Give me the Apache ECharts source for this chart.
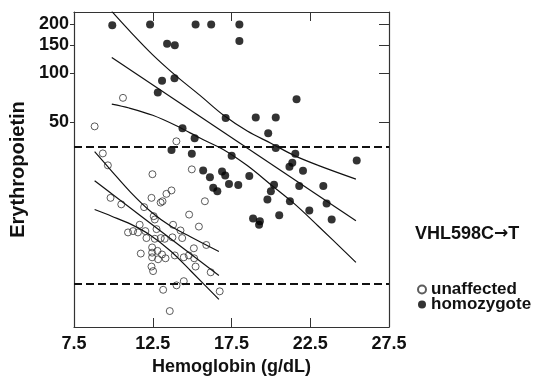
<!DOCTYPE html>
<html>
<head>
<meta charset="utf-8">
<script src="https://cdn.jsdelivr.net/npm/echarts@6/dist/echarts.min.js"></script>
<style>
html, body { margin: 0; padding: 0; background: #fff; }
#chart { width: 533px; height: 387px; }
</style>
</head>
<body>
<div id="chart"></div>
<script>
// [hemoglobin g/dL, erythropoietin]
const unaffected = [
  [8.81, 47], [10.61, 70.5], [9.33, 32], [9.65, 27], [14.0, 38], [12.48, 23.8], [14.98, 25.5],
  [13.69, 18.9], [13.37, 18.0], [12.42, 17], [13.12, 16.2], [9.82, 17], [10.5, 15.5], [11.95, 14.9],
  [12.56, 13.1], [12.63, 12.5], [13.79, 11.6], [11.67, 11.6], [10.93, 10.4], [11.25, 10.6],
  [11.56, 10.4], [12.03, 10.6], [12.1, 9.6], [12.63, 9.5], [13.01, 9.6], [13.26, 9.5], [13.75, 9.7],
  [11.74, 7.7], [12.46, 8.4], [12.46, 7.8], [12.46, 7.3], [12.8, 8.0], [13.09, 7.6], [13.31, 7.2],
  [12.84, 7.1], [12.42, 6.4], [12.52, 6.0], [13.9, 7.5], [13.16, 4.6], [14.01, 4.9], [13.58, 3.4],
  [12.74, 10.9], [14.81, 13.4], [15.81, 16.2], [15.43, 11.3], [14.26, 10.7], [14.37, 9.6],
  [15.11, 8.3], [15.9, 8.7], [14.79, 7.5], [14.47, 7.3], [15.22, 6.4], [16.18, 5.9], [14.47, 5.2],
  [16.75, 4.5], [15.13, 7.2], [13.0, 15.9]
];
const homozygote = [
  [9.93, 198], [12.33, 200], [13.41, 152], [13.9, 149], [13.09, 90], [13.88, 93], [12.82, 76],
  [13.69, 33.6], [14.98, 31.8], [14.39, 45.7], [15.16, 39.7], [15.22, 200], [16.21, 200], [18.0, 200],
  [18.0, 158], [17.13, 53], [19.04, 53.4], [20.31, 53.4], [19.83, 42.6], [20.31, 34.5], [17.51, 31.0],
  [21.63, 69], [21.55, 31.8], [25.45, 28.9], [21.36, 28.0], [21.18, 26.5], [22.04, 25], [15.7, 25.1],
  [16.13, 22.8], [16.9, 24.7], [17.1, 23.4], [18.63, 23.2], [17.34, 20.7], [17.93, 20.4], [16.34, 19.6],
  [16.6, 18.7], [20.2, 20.5], [20.0, 18.7], [19.78, 16.6], [18.87, 12.7], [19.3, 12.2], [19.25, 11.6],
  [20.53, 13.3], [21.8, 20.1], [23.33, 20.1], [21.21, 16.2], [23.54, 15.7], [22.44, 14.2], [23.86, 12.5]
];

// fitted lines and their bands
const homBandX = [9.9, 11, 12.5, 14, 15.5, 17, 18.5, 20, 21.5, 23, 25.4];
const homUpper = [241, 184, 130, 96, 73, 55, 44, 37, 31, 27, 22.2];
const homLower = [64.5, 61, 55, 47.4, 39.8, 33.7, 26.9, 20.5, 15.6, 11.4, 6.8];
const homFitX = [9.9, 25.4];
const homFit = [125, 12.3];

const unaBandX = [8.81, 9.89, 11.1, 12.37, 13.65, 14.92, 16.7];
const unaUpper = [32.8, 24.9, 18.4, 14.0, 11.35, 9.75, 7.93];
const unaLower = [14.4, 13.1, 11.7, 9.97, 7.96, 6.01, 4.01];
const unaFitX = [8.81, 16.7];
const unaFit = [21.7, 5.64];

const refLevels = [35, 5];
const xTicks = [7.5, 12.5, 17.5, 22.5, 27.5];
const yTicks = [50, 100, 150, 200];

const FONT = '"Liberation Sans", Arial, sans-serif';
const INK = '#111';

function zip(xs, ys) { return xs.map((x, i) => [x, ys[i]]); }
function curve(xs, ys) {
  return {
    type: 'line', data: zip(xs, ys), showSymbol: false, smooth: 0.35, silent: true,
    lineStyle: { color: INK, width: 1.2 }, xAxisIndex: 0, yAxisIndex: 0
  };
}

const chart = echarts.init(document.getElementById('chart'), null, { renderer: 'canvas' });
chart.setOption({
  animation: false,
  backgroundColor: '#fff',
  grid: { left: 74, top: 12, right: 144, bottom: 60 },
  title: {
    text: '{t|VHL598C}{a|\u2192}{t|T}', left: 410, top: 220,
    textStyle: {
      rich: {
        t: { fontFamily: FONT, fontWeight: 'bold', fontSize: 18, color: INK },
        a: { fontFamily: '"DejaVu Sans", sans-serif', fontWeight: 'bold', fontSize: 17, color: INK }
      }
    }
  },
  legend: {
    orient: 'vertical', left: 412, top: 276, itemGap: -2, itemWidth: 8, itemHeight: 8,
    data: ['unaffected', 'homozygote'],
    textStyle: { fontFamily: FONT, fontWeight: 'bold', fontSize: 17, color: INK, padding: [0, 0, 0, 0] }
  },
  xAxis: [{
    type: 'value', min: 7.5, max: 27.5,
    name: 'Hemoglobin (g/dL)', nameLocation: 'middle', nameGap: 31,
    nameTextStyle: { fontFamily: FONT, fontWeight: 'bold', fontSize: 18, color: INK },
    axisLine: { lineStyle: { color: '#333', width: 1.2 } },
    axisTick: { inside: true, length: 9, customValues: xTicks, lineStyle: { color: '#333' } },
    axisLabel: { customValues: xTicks, margin: 8, fontFamily: FONT, fontWeight: 'bold', fontSize: 18, color: INK },
    splitLine: { show: false }
  }, {
    type: 'value', min: 7.5, max: 27.5, position: 'top',
    axisLine: { lineStyle: { color: '#333', width: 1.2 } },
    axisTick: { inside: true, length: 9, customValues: xTicks.slice(1, 4), lineStyle: { color: '#333' } },
    axisLabel: { show: false }, splitLine: { show: false }
  }],
  yAxis: [{
    type: 'log', logBase: 10, min: 2.71, max: 239,
    name: 'Erythropoietin', nameLocation: 'middle', nameGap: 44, nameRotate: 90,
    nameTextStyle: { fontFamily: FONT, fontWeight: 'bold', fontSize: 20, color: INK },
    axisLine: { show: true, lineStyle: { color: '#333', width: 1.2 } },
    axisTick: { show: true, inside: false, length: 4, customValues: yTicks, lineStyle: { color: '#333' } },
    axisLabel: { customValues: yTicks, margin: 5, fontFamily: FONT, fontWeight: 'bold', fontSize: 18, color: INK },
    splitLine: { show: false }
  }, {
    type: 'log', logBase: 10, min: 2.71, max: 239, position: 'right',
    axisLine: { show: true, lineStyle: { color: '#333', width: 1.2 } },
    axisTick: { show: true, inside: true, length: 10, customValues: yTicks, lineStyle: { color: '#333' } },
    axisLabel: { show: false }, splitLine: { show: false }
  }],
  series: [
    {
      name: 'unaffected', type: 'scatter', data: unaffected, symbol: 'circle', symbolSize: 7,
      itemStyle: { color: 'rgba(255,255,255,0)', borderColor: '#333', borderWidth: 1 },
      markLine: {
        silent: true, symbol: 'none', label: { show: false },
        lineStyle: { color: INK, width: 2, type: [8, 4] },
        data: refLevels.map(v => ({ yAxis: v }))
      }
    },
    {
      name: 'homozygote', type: 'scatter', data: homozygote, symbol: 'circle', symbolSize: 8,
      itemStyle: { color: '#000' }
    },
    curve(homBandX, homUpper), curve(homBandX, homLower), curve(homFitX, homFit),
    curve(unaBandX, unaUpper), curve(unaBandX, unaLower), curve(unaFitX, unaFit)
  ]
});
</script>
</body>
</html>
